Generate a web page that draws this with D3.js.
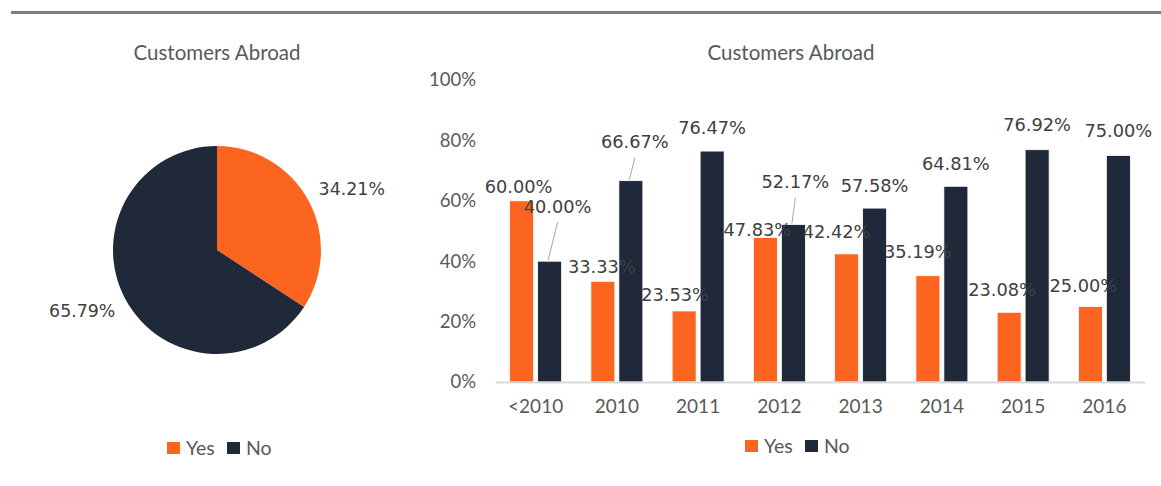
<!DOCTYPE html>
<html>
<head>
<meta charset="utf-8">
<script src="https://cdnjs.cloudflare.com/ajax/libs/d3/7.8.5/d3.min.js"></script>
<style>
  body { margin: 0; background: #fff; }
  svg { display: block; }
</style>
</head>
<body>
<script>

// pie data
var pieCategories = ['Yes', 'No'];
var pieValues = [34.21, 65.79];

// bar data
var years = ['<2010', '2010', '2011', '2012', '2013', '2014', '2015', '2016'];
var yesValues = [60.00, 33.33, 23.53, 47.83, 42.42, 35.19, 23.08, 25.00];
var noValues = [40.00, 66.67, 76.47, 52.17, 57.58, 64.81, 76.92, 75.00];
var yTicks = [0, 20, 40, 60, 80, 100];

var chartTitle = 'Customers Abroad';

// label nudges (dx, dy from bar top centre), leader = label moved away from bar
var labelNudge = {
  Yes: [[-3, -14], [-1, -15], [-9, -16], [-8, -8], [-10, -22], [-10, -24], [-7, -23], [-7, -21]],
  No:  [[8, -55, 1], [4, -39, 1], [0, -23], [2, -43, 1], [0, -23], [0, -23], [0, -25], [0, -25]]
};

var Sketch = {

  width: 1161,
  height: 486,
  colors: { Yes: '#fb6520', No: '#1f293a' },
  labelFont: '"DejaVu Sans", Verdana, sans-serif',
  textFont: 'Lato, "Open Sans", sans-serif',
  svg: null,

  init: function () {

    this.svg = d3.select('body').append('svg')
      .attr('width', this.width)
      .attr('height', this.height);

    // grey rule along the top
    this.svg.append('line')
      .attr('x1', 11).attr('x2', this.width)
      .attr('y1', 12.5).attr('y2', 12.5)
      .style('stroke', '#7f7f7f')
      .style('stroke-width', 3);

    this.drawPie();
    this.drawBars();
  },

  title: function (x, y) {
    this.svg.append('text')
      .attr('x', x).attr('y', y)
      .attr('text-anchor', 'middle')
      .style('font-family', this.textFont)
      .style('font-size', '20.5px')
      .style('fill', '#595959')
      .text(chartTitle);
  },

  legend: function (x, y) {
    var g = this.svg.append('g').attr('transform', 'translate(' + x + ',' + y + ')');
    var offsets = [0, 60];
    pieCategories.forEach(function (name, i) {
      g.append('rect')
        .attr('x', offsets[i]).attr('y', -6)
        .attr('width', 13).attr('height', 12)
        .style('fill', this.colors[name]);
      g.append('text')
        .attr('x', offsets[i] + 19).attr('y', 0)
        .attr('dy', '0.36em')
        .style('font-family', this.textFont)
        .style('font-size', '19.5px')
        .style('fill', '#595959')
        .text(name);
    }, this);
  },

  drawPie: function () {

    var cx = 217, cy = 250, r = 104;
    var g = this.svg.append('g').attr('transform', 'translate(' + cx + ',' + cy + ')');

    var arcs = d3.pie().sort(null)(pieValues);
    var arc = d3.arc().innerRadius(0).outerRadius(r);

    g.selectAll('path')
      .data(arcs)
      .enter().append('path')
      .attr('d', arc)
      .style('fill', function (d, i) { return this.colors[pieCategories[i]]; }.bind(this));

    g.selectAll('text')
      .data(arcs)
      .enter().append('text')
      .attr('transform', function (d) {
        var a = (d.startAngle + d.endAngle) / 2 + 4 * Math.PI / 180;
        return 'translate(' + (Math.sin(a) * 148) + ',' + (-Math.cos(a) * 148) + ')';
      })
      .attr('text-anchor', 'middle')
      .attr('dy', '0.36em')
      .style('font-family', this.labelFont)
      .style('font-size', '17.4px')
      .style('fill', '#404040')
      .text(function (d) { return d.value.toFixed(2) + '%'; });

    this.title(cx, 60);
    this.legend(167, 448);
  },

  drawBars: function () {

    var left = 495, right = 1145, top = 80, bottom = 382;
    var svg = this.svg;

    var x0 = d3.scaleBand().domain(years).range([left, right])
      .paddingInner(0.36).paddingOuter(0.18);
    var x1 = d3.scaleBand().domain(['Yes', 'No']).range([0, x0.bandwidth()])
      .paddingInner(4 / 28);
    var y = d3.scaleLinear().domain([0, 100]).range([bottom, top]);

    // y axis labels
    var yAxis = svg.append('g')
      .attr('transform', 'translate(' + (left - 19) + ',0)')
      .call(d3.axisLeft(y).tickValues(yTicks).tickSize(0).tickPadding(0)
        .tickFormat(function (d) { return d + '%'; }));
    yAxis.select('.domain').remove();
    yAxis.selectAll('text')
      .style('font-family', this.textFont)
      .style('font-size', '18.5px')
      .style('fill', '#595959');

    var series = { Yes: yesValues, No: noValues };

    ['Yes', 'No'].forEach(function (key) {
      var g = svg.append('g');
      g.selectAll('rect')
        .data(series[key])
        .enter().append('rect')
        .attr('x', function (d, i) { return x0(years[i]) + x1(key); })
        .attr('y', function (d) { return y(d); })
        .attr('width', x1.bandwidth())
        .attr('height', function (d) { return bottom - y(d); })
        .style('fill', this.colors[key])
        .style('stroke', '#ffffff')
        .style('stroke-width', 0.8);
    }, this);

    // x axis
    var xAxis = svg.append('g')
      .attr('transform', 'translate(0,' + bottom + ')')
      .call(d3.axisBottom(x0).tickSize(0).tickPadding(18));
    xAxis.select('.domain')
      .style('stroke', '#d9d9d9')
      .style('stroke-width', 2);
    xAxis.selectAll('text')
      .style('font-family', this.textFont)
      .style('font-size', '19px')
      .style('fill', '#595959');

    // data labels with leader lines
    ['Yes', 'No'].forEach(function (key) {
      series[key].forEach(function (v, i) {
        var bx = x0(years[i]) + x1(key) + x1.bandwidth() / 2;
        var by = y(v);
        var n = labelNudge[key][i];
        var lx = bx + n[0], ly = by + n[1];
        if (n[2]) {
          svg.append('line')
            .attr('x1', lx).attr('y1', ly + 16)
            .attr('x2', bx - 1.5).attr('y2', by - 1)
            .style('stroke', '#a6a6a6')
            .style('stroke-width', 1);
        }
        svg.append('text')
          .attr('x', lx).attr('y', ly)
          .attr('dy', '0.36em')
          .attr('text-anchor', 'middle')
          .style('font-family', this.labelFont)
          .style('font-size', '17.8px')
          .style('fill', '#404040')
          .text(v.toFixed(2) + '%');
      }, this);
    }, this);

    this.title(791, 60);
    this.legend(745, 446);
  }
};

Sketch.init();
</script>
</body>
</html>
